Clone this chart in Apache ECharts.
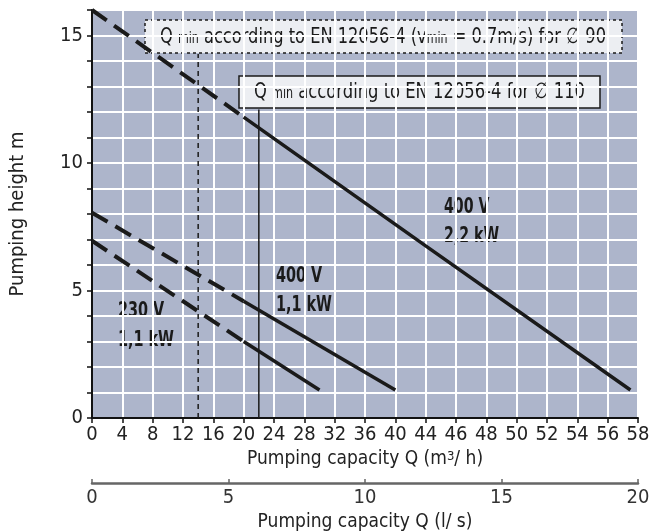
<!DOCTYPE html>
<html>
<head>
<meta charset="utf-8">
<script src="https://cdn.jsdelivr.net/npm/echarts@6/dist/echarts.min.js"></script>
<style>
  html, body { margin: 0; padding: 0; background: #fff; }
  #chart { width: 650px; height: 532px; }
</style>
</head>
<body>
<div id="chart"></div>
<script>
// m3/h axis labels (step 4 up to 44, then step 2)
const qTicks = [0, 4, 8, 12, 16, 20, 24, 28, 32, 36, 40, 44, 46, 48, 50, 52, 54, 56, 58]
const lsTicks = [0, 5, 10, 15, 20]
const hLabels = [0, 5, 10, 15]

// pump curves [Q m3/h, H m] - dashed part below Qmin, solid part above
const c230Dash = [[0, 6.95], [20, 3.0]]
const c230Solid = [[20, 3.0], [30, 1.1]]
const c400aDash = [[0, 8.05], [20, 4.58]]
const c400aSolid = [[20, 4.58], [40, 1.1]]
const c400bDash = [[0, 16], [20, 11.8]]
const c400bSolid = [[20, 11.8], [44, 6.75], [57.5, 1.1]]

// Qmin lines [Q, top H]
const qmin90 = [14, 14.27]
const qmin110 = [22, 12.1]

const FONT = "'Liberation Sans Narrow', 'DejaVu Sans Condensed', 'Roboto', sans-serif"
const INK = '#1a1a1a'

// position on the (uneven) Q axis, in tick steps
function qPos(q) {
  for (let i = 0; i < qTicks.length - 1; i++) {
    if (q <= qTicks[i + 1]) {
      return i + (q - qTicks[i]) / (qTicks[i + 1] - qTicks[i])
    }
  }
  return qTicks.length - 1
}
const toAxis = (pts) => pts.map((p) => [qPos(p[0]), p[1]])

function curve(pts, dashed) {
  return {
    type: 'line',
    data: toAxis(pts),
    symbol: 'none',
    silent: true,
    lineStyle: {
      color: INK,
      width: dashed ? 4 : 3.5,
      type: dashed ? [18, 9] : 'solid',
      cap: 'butt'
    }
  }
}

function vline(q, dashed) {
  return {
    type: 'line',
    data: toAxis([[q[0], 0], [q[0], q[1]]]),
    symbol: 'none',
    silent: true,
    lineStyle: { color: INK, width: 1.5, type: dashed ? [5, 4] : 'solid' }
  }
}

// squeeze a text horizontally so it has the width of the condensed original
function fitted(x, y, style, width) {
  const probe = new echarts.graphic.Text({ style: style })
  const w = probe.getBoundingRect().width
  return { type: 'text', x: x, y: y, scaleX: width / w, style: style }
}

function label(x, y, text, width) {
  return fitted(x, y, {
    text: text,
    fontFamily: FONT,
    fontSize: 22,
    fontWeight: 'bold',
    lineHeight: 29,
    fill: INK,
    verticalAlign: 'top'
  }, width)
}

function boxText(x, y, text, width) {
  return fitted(x, y, {
    text: text,
    fontFamily: FONT,
    fontSize: 22,
    fill: INK,
    verticalAlign: 'middle',
    rich: {
      s: { fontSize: 15, fontFamily: FONT, fill: INK, verticalAlign: 'bottom', padding: [0, 0, 1, 0] }
    }
  }, width)
}

const chart = echarts.init(document.getElementById('chart'))
const option = {
  animation: false,
  grid: {
    left: 92, right: 12, top: 10, bottom: 114,
    outerBoundsMode: 'none',
    containLabel: false,
    show: true, backgroundColor: '#adb5cb', borderWidth: 0
  },
  xAxis: [
    {
      type: 'value', min: 0, max: qTicks.length - 1, interval: 1,
      position: 'bottom',
      axisLine: { lineStyle: { color: '#111', width: 2 } },
      axisTick: { length: 5, lineStyle: { color: '#111', width: 1.5 } },
      axisLabel: {
        formatter: (v) => String(qTicks[Math.round(v)]),
        fontFamily: FONT, fontSize: 20, color: '#222', margin: 7,
        showMinLabel: true, showMaxLabel: true
      },
      splitLine: { show: true, lineStyle: { color: '#fff', width: 2 } },
      name: 'Pumping capacity Q (m{sup|3}/ h)',
      nameLocation: 'middle',
      nameGap: 25,
      nameTextStyle: {
        fontFamily: FONT, fontSize: 19, color: '#222',
        rich: { sup: { fontFamily: FONT, fontSize: 13, color: '#222', verticalAlign: 'top' } }
      }
    },
    {
      type: 'value', min: 0, max: 20, interval: 5,
      position: 'bottom', offset: 65,
      axisLine: { lineStyle: { color: '#666', width: 2.5 } },
      axisTick: { inside: true, length: 4, lineStyle: { color: '#666', width: 1.5 } },
      axisLabel: {
        formatter: (v) => (lsTicks.includes(v) ? String(v) : ''),
        fontFamily: FONT, fontSize: 20, color: '#333', margin: 5
      },
      splitLine: { show: false },
      name: 'Pumping capacity Q (l/ s)',
      nameLocation: 'middle',
      nameGap: 26,
      nameTextStyle: { fontFamily: FONT, fontSize: 19, color: '#222' }
    }
  ],
  yAxis: {
    type: 'value', min: 0, max: 16, interval: 1,
    axisLine: { show: true, lineStyle: { color: '#111', width: 2 } },
    axisTick: { show: true, length: 5, lineStyle: { color: '#111', width: 1.5 } },
    axisLabel: {
      formatter: (v) => (hLabels.includes(v) ? String(v) : ''),
      fontFamily: FONT, fontSize: 20, color: '#222', margin: 9
    },
    splitLine: { show: true, lineStyle: { color: '#fff', width: 2 } },
    name: 'Pumping height m',
    nameLocation: 'middle',
    nameRotate: 90,
    nameGap: 64,
    nameTextStyle: { fontFamily: FONT, fontSize: 20, color: '#222' }
  },
  series: [
    vline(qmin90, true),
    vline(qmin110, false),
    curve(c230Dash, true),
    curve(c230Solid, false),
    curve(c400aDash, true),
    curve(c400aSolid, false),
    curve(c400bDash, true),
    curve(c400bSolid, false)
  ],
  graphic: [
    {
      type: 'rect',
      shape: { x: 145, y: 20, width: 477, height: 33 },
      style: { fill: '#eceef2', stroke: INK, lineWidth: 1.5, lineDash: [3, 3] }
    },
    boxText(160, 37, 'Q {s|min} according to EN 12056-4 (v{s|min} = 0.7m/s) for \u2205 90', 446),
    {
      type: 'rect',
      shape: { x: 239, y: 76, width: 361, height: 32 },
      style: { fill: '#eceef2', stroke: INK, lineWidth: 1.5 }
    },
    boxText(254, 92, 'Q {s|min} according to EN 12056-4 for \u2205 110', 331),
    label(444, 193, '400 V\n2,2 kW', 55),
    label(276, 262, '400 V\n1,1 kW', 56),
    label(118, 297, '230 V\n1,1 kW', 56)
  ]
}
chart.setOption(option)
</script>
</body>
</html>
